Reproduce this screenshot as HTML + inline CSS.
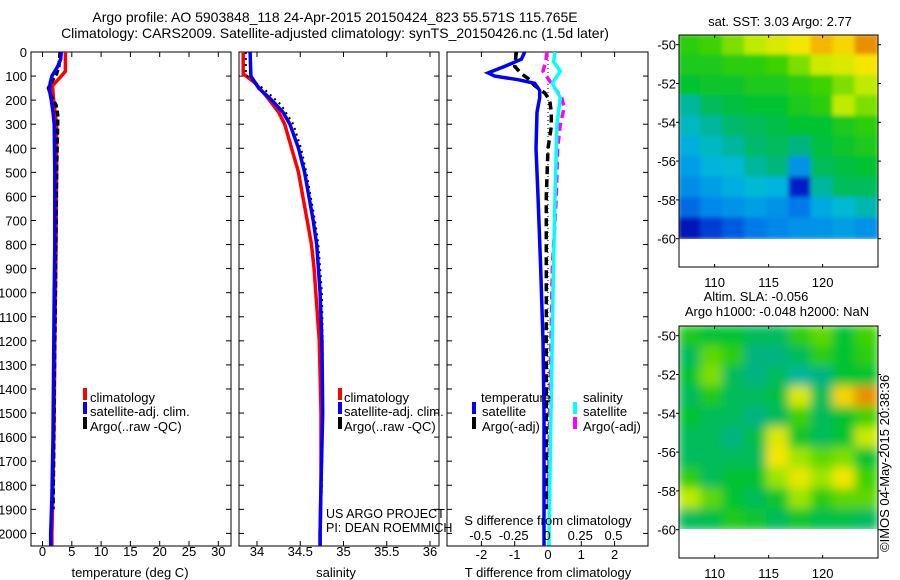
<!DOCTYPE html>
<html><head><meta charset="utf-8"><title>Argo profile</title>
<style>
html,body{margin:0;padding:0;background:#fff;}
svg{display:block;font-family:"Liberation Sans",sans-serif;}
text{font-size:13px;fill:#000;}
</style></head>
<body>
<svg id="chart" width="900" height="580" viewBox="0 0 900 580">
<defs>
<filter id="blur" x="0" y="0" width="1" height="1"><feGaussianBlur stdDeviation="5"/></filter>
<filter id="blur2" x="0" y="0" width="1" height="1"><feGaussianBlur stdDeviation="2"/></filter>
<clipPath id="clipSST"><rect x="679" y="35" width="199" height="204"/></clipPath>
<clipPath id="clipSLA"><rect x="679" y="326" width="199" height="203"/></clipPath>
</defs>
<text x="335" y="22" text-anchor="middle" style="font-size:14px">Argo profile: AO 5903848_118 24-Apr-2015 20150424_823 55.571S 115.765E</text>
<text x="335" y="38" text-anchor="middle" style="font-size:14px">Climatology: CARS2009. Satellite-adjusted climatology: synTS_20150426.nc (1.5d later)</text>
<g id="g1"></g>
<g id="g2"></g>
<g id="g3"></g>
<g id="g4"></g>
<g id="g5"></g>
<text x="0" y="0" transform="translate(889,552) rotate(-90)">©IMOS 04-May-2015 20:38:36</text>
</svg>
<script>
// ---------- data ----------
const depthTicks = [0,100,200,300,400,500,600,700,800,900,1000,1100,1200,1300,1400,1500,1600,1700,1800,1900,2000];
const tempTicks = [0,5,10,15,20,25,30];
const salTicks = [34,34.5,35,35.5,36];
const salTickLabels = ["34","34.5","35","35.5","36"];
const tdiffTicks = [-2,-1,0,1,2];
const sdiffTicks = [-0.5,-0.25,0,0.25,0.5];
const sdiffTickLabels = ["-0.5","-0.25","0","0.25","0.5"];

const climTDepth = [0,80,100,140,200,300,500,800,1000,1200,1500,1800,2000,2050];
const climTVal   = [3.9,3.9,3.2,1.7,1.9,2.4,2.4,2.3,2.2,2.1,2.0,1.8,1.6,1.6];
const satTDepth  = [0,30,60,100,130,160,200,250,300,500,800,1000,1300,1600,1850,2000,2050];
const satTVal    = [3.2,3.1,2.6,1.6,1.3,1.2,1.5,1.8,2.0,2.1,2.1,2.0,1.9,1.8,1.6,1.4,1.4];
const argoTDepth = [0,60,90,110,150,180,220,260,300,400,500,700,1000,1400,1700,1900];
const argoTVal   = [3.0,2.8,2.4,1.9,1.0,1.4,2.3,2.6,2.6,2.5,2.4,2.3,2.2,2.0,1.9,1.8];

const climSDepth = [0,90,130,180,250,300,400,500,600,700,800,900,1000,1200,1500,1800,2000,2050];
const climSVal   = [33.84,33.84,33.98,34.1,34.25,34.32,34.4,34.48,34.53,34.58,34.63,34.66,34.68,34.72,34.74,34.74,34.73,34.73];
const satSDepth  = [0,100,150,200,250,300,400,500,600,700,800,1000,1200,1500,1800,2000,2050];
const satSVal    = [33.92,33.93,34.02,34.17,34.3,34.38,34.48,34.55,34.6,34.65,34.69,34.73,34.75,34.76,34.74,34.73,34.73];
const argoSDepth = [0,95,160,220,300,400,500,600,700,800,1000,1200,1500,1800,1900];
const argoSVal   = [33.87,33.87,34.1,34.28,34.42,34.51,34.57,34.62,34.67,34.71,34.75,34.76,34.76,34.75,34.74];

const dSatTDepth = [0,30,60,87,100,115,130,160,190,250,400,600,900,1200,1500,2000,2050];
const dSatTVal   = [-0.7,-0.8,-1.3,-1.8,-1.6,-0.9,-0.4,-0.25,-0.25,-0.33,-0.36,-0.3,-0.22,-0.15,-0.12,-0.12,-0.12];
const dArgoTDepth = [0,60,90,110,140,170,200,250,310,400,600,1000,1500,1900];
const dArgoTVal   = [-0.95,-1.0,-0.8,-0.6,-0.4,-0.1,0.05,0.1,0.1,0.0,-0.05,-0.05,-0.05,-0.05];
const dSatSDepth = [0,40,80,130,190,300,600,1000,1500,2000,2050];
const dSatSVal   = [0.06,0.05,0.1,0.04,0.1,0.075,0.06,0.045,0.03,0.015,0.015];
const dArgoSDepth = [0,40,80,120,190,230,300,400,600,900,1500,1900];
const dArgoSVal   = [0.0,-0.01,-0.03,0.02,0.11,0.13,0.1,0.08,0.07,0.04,0.02,0.01];

const mapLonTicks = [110,115,120];
const mapLatTicks = [-50,-52,-54,-56,-58,-60];
const sstGrid = [
 [.6,.62,.66,.7,.74,.78,.84,.8,.9],
 [.58,.58,.6,.6,.62,.66,.72,.74,.78],
 [.55,.56,.56,.58,.58,.6,.62,.66,.7],
 [.42,.5,.53,.55,.55,.58,.6,.7,.66],
 [.38,.42,.48,.5,.52,.55,.55,.58,.6],
 [.33,.38,.42,.48,.5,.45,.53,.56,.58],
 [.3,.34,.36,.42,.46,.28,.5,.53,.55],
 [.27,.3,.33,.36,.34,.12,.42,.5,.5],
 [.22,.26,.28,.3,.28,.24,.32,.36,.4],
 [.1,.16,.2,.24,.26,.28,.28,.3,.28]
];
const slaGrid = [
 [.58,.55,.55,.5,.5,.6,.64,.55,.62],
 [.5,.64,.6,.45,.45,.5,.6,.55,.6],
 [.55,.66,.5,.45,.5,.42,.45,.55,.55],
 [.5,.58,.5,.5,.52,.74,.5,.8,.9],
 [.55,.5,.5,.45,.5,.62,.5,.55,.62],
 [.5,.5,.45,.52,.74,.56,.5,.55,.72],
 [.5,.5,.5,.5,.78,.68,.64,.66,.55],
 [.6,.5,.55,.55,.68,.76,.68,.78,.62],
 [.7,.64,.55,.5,.56,.68,.6,.64,.64],
 [.5,.52,.58,.56,.5,.56,.52,.52,.5]
];

// ---------- helpers ----------
const NS = "http://www.w3.org/2000/svg";
function mk(parent, tag, attrs){ const e=document.createElementNS(NS,tag); for(const k in attrs) e.setAttribute(k,attrs[k]); parent.appendChild(e); return e; }
const TOP=52, BOT=546;
const yD = d => TOP + d*0.2407;
const x1 = v => 42.5 + v*5.86;
const x2 = v => 257 + (v-34)*86.5;
const x3T = v => 548 + v*33.3;
const x3S = v => 547 + v*133;
const CMAP = [[0,0,0,110],[.12,0,30,200],[.25,0,130,235],[.35,0,185,220],[.45,0,180,130],[.55,0,195,50],[.62,60,210,0],[.7,190,235,0],[.78,245,230,0],[.86,245,165,0],[1,200,90,0]];
function cmap(v){
  v=Math.max(0,Math.min(1,v));
  for(let i=1;i<CMAP.length;i++){
    if(v<=CMAP[i][0]){
      const a=CMAP[i-1], b=CMAP[i], t=(v-a[0])/(b[0]-a[0]);
      return `rgb(${Math.round(a[1]+t*(b[1]-a[1]))},${Math.round(a[2]+t*(b[2]-a[2]))},${Math.round(a[3]+t*(b[3]-a[3]))})`;
    }
  }
  return 'rgb(200,90,0)';
}
function frame(g, L, R, name){
  const r=mk(g,'rect',{x:L,y:TOP,width:R-L,height:BOT-TOP,fill:'none',stroke:'#000','stroke-width':1});
  
  
  depthTicks.forEach(d=>{
    mk(g,'line',{x1:L,x2:L+5,y1:yD(d),y2:yD(d),stroke:'#000'});
    mk(g,'line',{x1:R-5,x2:R,y1:yD(d),y2:yD(d),stroke:'#000'});
  });
}
function xticks(g, vals, fx, labels, ly){
  vals.forEach((v,i)=>{
    const x=fx(v);
    mk(g,'line',{x1:x,x2:x,y1:TOP,y2:TOP+5,stroke:'#000'});
    mk(g,'line',{x1:x,x2:x,y1:BOT-5,y2:BOT,stroke:'#000'});
    if(labels){
      const t=mk(g,'text',{x:x,y:ly,'text-anchor':'middle'}); t.textContent=labels[i];
      
      
    }
  });
}
function profile(g, ds, vs, fx, color, dash, name, w){
  const pts=ds.map((d,i)=>fx(vs[i]).toFixed(1)+','+yD(d).toFixed(1)).join(' ');
  const p=mk(g,'polyline',{points:pts,fill:'none',stroke:color,'stroke-width':w||3.5});
  if(dash) p.setAttribute('stroke-dasharray',dash);
  
  
}
function txt(g, x, y, s, name, anchor){
  const t=mk(g,'text',{x:x,y:y}); if(anchor) t.setAttribute('text-anchor',anchor); t.textContent=s;
  
  
  return t;
}
function legBar(g,x,y,c){ mk(g,'rect',{x:x,y:y-10,width:4,height:12,fill:c}); }

// ---------- panel 1 ----------
const g1=document.getElementById('g1');
frame(g1,31,231,'temperature-axes-frame');
xticks(g1,tempTicks,x1,tempTicks.map(String),556);
depthTicks.forEach(d=>{ txt(g1,27,yD(d)+5,String(d),'depth-tick-label','end'); });
profile(g1,climTDepth,climTVal,x1,'#ff0000',null,'temp-climatology-line');
profile(g1,argoTDepth,argoTVal,x1,'#000',"6 3",'temp-argo-line');
profile(g1,satTDepth,satTVal,x1,'#0000ff',null,'temp-satellite-line');
txt(g1,130,577,'temperature (deg C)','x-axis-title','middle');
legBar(g1,83,398,'#ff0000'); txt(g1,90,402,'climatology','legend-climatology');
legBar(g1,83,412,'#0000ff'); txt(g1,90,416,'satellite-adj. clim.','legend-satellite');
legBar(g1,83,427,'#000'); txt(g1,90,431,'Argo(..raw -QC)','legend-argo');

// ---------- panel 2 ----------
const g2=document.getElementById('g2');
frame(g2,239,439,'salinity-axes-frame');
xticks(g2,salTicks,x2,salTickLabels,556);
profile(g2,climSDepth,climSVal,x2,'#ff0000',null,'sal-climatology-line');
profile(g2,argoSDepth,argoSVal,x2,'#000',"2 4",'sal-argo-line',2);
profile(g2,satSDepth,satSVal,x2,'#0000ff',null,'sal-satellite-line');
txt(g2,336,577,'salinity','x-axis-title','middle');
legBar(g2,338,398,'#ff0000'); txt(g2,344,402,'climatology','legend-climatology');
legBar(g2,338,412,'#0000ff'); txt(g2,344,416,'satellite-adj. clim.','legend-satellite');
legBar(g2,338,427,'#000'); txt(g2,344,431,'Argo(..raw -QC)','legend-argo');
const pl=txt(g2,326,518,'US ARGO PROJECT','project-label'); pl.style.fontSize='12.5px';
const pi=txt(g2,326,532,'PI: DEAN ROEMMICH','pi-label'); pi.style.fontSize='12.5px';

// ---------- panel 3 ----------
const g3=document.getElementById('g3');
frame(g3,447,648,'difference-axes-frame');
xticks(g3,tdiffTicks,x3T,tdiffTicks.map(String),559);
const zl=mk(g3,'line',{x1:x3T(0),x2:x3T(0),y1:TOP,y2:BOT,stroke:'#000','stroke-dasharray':'1 3'});


profile(g3,dArgoSDepth,dArgoSVal,x3S,'#ff00ff',"8 5",'sdiff-argo-line');
profile(g3,dSatSDepth,dSatSVal,x3S,'#00ffff',null,'sdiff-satellite-line');
profile(g3,dArgoTDepth,dArgoTVal,x3T,'#000',"8 5",'tdiff-argo-line');
profile(g3,dSatTDepth,dSatTVal,x3T,'#0000ff',null,'tdiff-satellite-line');
txt(g3,481,402,'temperature','legend-temperature-heading');
legBar(g3,472,412,'#0000ff'); txt(g3,482,416,'satellite','legend-t-satellite');
legBar(g3,472,427,'#000'); txt(g3,482,431,'Argo(-adj)','legend-t-argo');
txt(g3,583,402,'salinity','legend-salinity-heading');
legBar(g3,573,412,'#00ffff'); txt(g3,583,416,'satellite','legend-s-satellite');
legBar(g3,573,427,'#ff00ff'); txt(g3,583,431,'Argo(-adj)','legend-s-argo');
txt(g3,548,525,'S difference from climatology','s-axis-title','middle');
sdiffTicks.forEach((v,i)=>txt(g3,x3S(v),540,sdiffTickLabels[i],'s-tick-label','middle'));
txt(g3,548,577,'T difference from climatology','t-axis-title','middle');

// ---------- maps ----------
function drawMap(gid, grid, top, bot, clipId, blurId, name, titles){
  const g=document.getElementById(gid);
  const L=679, R=878;
  const lonX = lon => L + (lon-106.7)*10.8;
  const latY = lat => top + (-49.5-lat)*19.4;
  const cg=mk(g,'g',{'clip-path':`url(#${clipId})`});
  const hg=mk(cg,'g',{filter:`url(#${blurId})`});
  const nr=grid.length, nc=grid[0].length;
  const lon0=106.7, lon1=125.1, dLon=(lon1-lon0)/nc;
  for(let r=0;r<nr;r++) for(let c=0;c<nc;c++){
    const la0=-49.5-r*(10.5/nr), la1=-49.5-(r+1)*(10.5/nr);
    const cell=mk(hg,'rect',{x:lonX(lon0+c*dLon)-1,y:latY(la0)-1,width:dLon*10.8+2,height:(latY(la1)-latY(la0))+2,fill:cmap(grid[r][c])});
    
    
  }
  const fr=mk(g,'rect',{x:L,y:top,width:R-L,height:bot-top,fill:'none',stroke:'#000'});
  
  
  mapLonTicks.forEach(lon=>{
    const x=lonX(lon);
    mk(g,'line',{x1:x,x2:x,y1:top,y2:top+3,stroke:'#000'});
    mk(g,'line',{x1:x,x2:x,y1:bot-3,y2:bot,stroke:'#000'});
    txt(g,x,bot+20,String(lon),'lon-tick-label','middle');
  });
  mapLatTicks.forEach(lat=>{
    const y=latY(lat);
    mk(g,'line',{x1:R,x2:R+3,y1:y,y2:y,stroke:'#000'});
    mk(g,'line',{x1:L-3,x2:L,y1:y,y2:y,stroke:'#000'});
    txt(g,676,y+5,String(lat),'lat-tick-label','end');
  });
  titles.forEach(t=>txt(g,t[1],t[2],t[0],name+'-title','middle'));
}
drawMap('g4',sstGrid,35,267,'clipSST','blur2','sst-map',[['sat. SST: 3.03 Argo: 2.77',780,26]]);
drawMap('g5',slaGrid,326,558,'clipSLA','blur','sla-map',[['Altim. SLA: -0.056',756,301],['Argo h1000: -0.048 h2000: NaN',777,316]]);
</script>
</body></html>
